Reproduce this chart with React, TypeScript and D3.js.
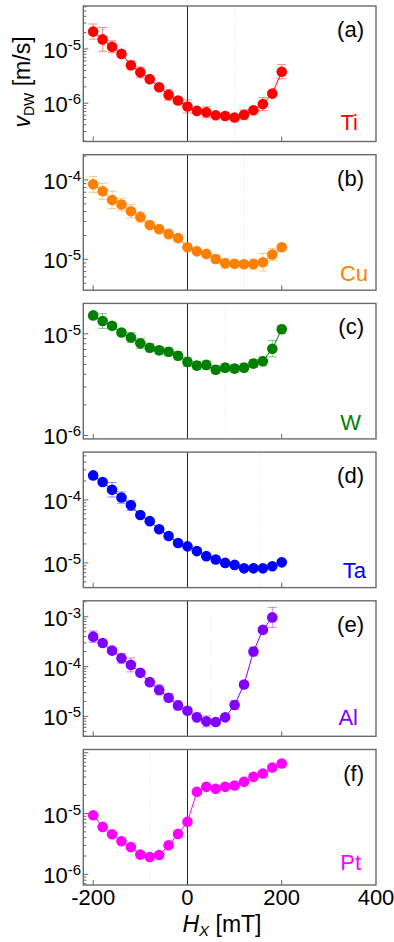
import React from 'react';
import * as d3 from 'd3';

// ---------- data ----------
const fieldMT = [-200, -180, -160, -140, -120, -100, -80, -60, -40, -20, 0, 20, 40, 60, 80, 100, 120, 140, 160, 180, 200];
const xTickValues = [-200, 0, 200, 400];
const xTickLabels = ['-200', '0', '200', '400'];

const tiVel = [2.09e-5, 1.5e-5, 1.1e-5, 8.1e-6, 5.0e-6, 3.7e-6, 2.77e-6, 1.97e-6, 1.42e-6, 1.12e-6, 8.7e-7, 7.2e-7, 6.8e-7, 6.0e-7, 5.8e-7, 5.45e-7, 6.1e-7, 7.4e-7, 9.6e-7, 1.5e-6, 3.8e-6];
const tiErr = [0.14, 0.22, 0.11, 0.06, 0.08, 0.1, 0.04, 0.04, 0.1, 0.06, 0.12, 0.03, 0.1, 0.03, 0.03, 0.03, 0.09, 0.03, 0.12, 0.03, 0.13];

const cuVel = [8.8e-5, 7.2e-5, 5.6e-5, 4.9e-5, 4.04e-5, 3.42e-5, 2.7e-5, 2.4e-5, 2.08e-5, 1.85e-5, 1.42e-5, 1.26e-5, 1.17e-5, 1.01e-5, 8.9e-6, 8.8e-6, 8.65e-6, 8.7e-6, 9.2e-6, 1.15e-5, 1.42e-5];
const cuErr = [0.1, 0.1, 0.11, 0.08, 0.085, 0.065, 0.03, 0.03, 0.06, 0.04, 0.03, 0.03, 0.03, 0.05, 0.06, 0.04, 0.04, 0.065, 0.11, 0.075, 0.04];

const wVel = [1.52e-5, 1.34e-5, 1.2e-5, 1.03e-5, 9.2e-6, 8.07e-6, 7.3e-6, 6.88e-6, 6.67e-6, 6.08e-6, 5.3e-6, 4.87e-6, 4.95e-6, 4.44e-6, 4.65e-6, 4.55e-6, 4.65e-6, 5.1e-6, 5.38e-6, 7.14e-6, 1.11e-5];
const wErr = [0.03, 0.073, 0.03, 0.03, 0.05, 0.05, 0.04, 0.04, 0.04, 0.04, 0.045, 0.04, 0.04, 0.04, 0.04, 0.04, 0.04, 0.04, 0.045, 0.08, 0.04];

const taVel = [2.45e-4, 1.92e-4, 1.45e-4, 1.09e-4, 8.2e-5, 5.75e-5, 4.6e-5, 3.43e-5, 2.68e-5, 2.07e-5, 1.83e-5, 1.54e-5, 1.28e-5, 1.13e-5, 1.0e-5, 9.3e-6, 8.2e-6, 8.2e-6, 8.2e-6, 8.85e-6, 1.02e-5];
const taErr = [0.03, 0.03, 0.115, 0.09, 0.08, 0.03, 0.03, 0.03, 0.03, 0.03, 0.03, 0.03, 0.03, 0.03, 0.03, 0.03, 0.03, 0.03, 0.03, 0.03, 0.03];

const alVel = [3.98e-4, 2.97e-4, 2.09e-4, 1.47e-4, 1.08e-4, 7.47e-5, 4.86e-5, 3.4e-5, 2.36e-5, 1.66e-5, 1.3e-5, 9.55e-6, 7.94e-6, 7.7e-6, 9.55e-6, 1.69e-5, 4.37e-5, 2.0e-4, 5.5e-4, 9.7e-4];
const alErr = [0.115, 0.05, 0.05, 0.1, 0.14, 0.05, 0.07, 0.1, 0.08, 0.09, 0.05, 0.09, 0.11, 0.05, 0.05, 0.09, 0.05, 0.09, 0.05, 0.2];

const ptVel = [9.4e-6, 6.03e-6, 4.56e-6, 3.5e-6, 2.82e-6, 2.11e-6, 1.93e-6, 2.08e-6, 3.0e-6, 4.62e-6, 7.3e-6, 2.28e-5, 2.75e-5, 2.55e-5, 2.75e-5, 2.9e-5, 3.33e-5, 4.02e-5, 4.56e-5, 5.73e-5, 6.67e-5];
const ptErr = [0.02, 0.02, 0.02, 0.02, 0.02, 0.02, 0.02, 0.02, 0.02, 0.02, 0.02, 0.02, 0.02, 0.02, 0.02, 0.02, 0.02, 0.02, 0.02, 0.02, 0.02];

const panelTags = ['(a)', '(b)', '(c)', '(d)', '(e)', '(f)'];
const elements = ['Ti', 'Cu', 'W', 'Ta', 'Al', 'Pt'];
const colors = ['#ff0000', '#ff8000', '#008000', '#0000ff', '#8000ff', '#ff00ff'];
const velocities = [tiVel, cuVel, wVel, taVel, alVel, ptVel];
const errorsDex = [tiErr, cuErr, wErr, taErr, alErr, ptErr];
// log10 y-domain per panel [bottom, top]
const yDomainsExp = [[-6.707, -4.208], [-5.389, -3.682], [-6.034, -4.70], [-5.392, -3.241], [-5.40, -2.68], [-6.176, -3.946]];
const yLabelExps = [[-5, -6], [-4, -5], [-5, -6], [-4, -5], [-3, -4, -5], [-5, -6]];
const guideFields = [100, 120, 80, 155, 50, -80];

// ---------- layout ----------
const W = 394;
const H = 942;
const LEFT = 83.3;
const RIGHT = 376;
const TOP0 = 6;
const STEP = 148.7;
const PH = 135.5;
const FONT = "'Liberation Sans', Arial, sans-serif";
const elemLabelPos = [[358, 12], [368, 9], [361, 9], [366, 10], [358, 11], [361, 15]];

const x = d3.scaleLinear().domain([-221, 400]).range([LEFT, RIGHT]);

function Panel({ i }: { i: number }) {
  const top = TOP0 + i * STEP;
  const bottom = top + PH;
  const [lo, hi] = yDomainsExp[i];
  const y = d3.scaleLog().domain([Math.pow(10, lo), Math.pow(10, hi)]).range([bottom, top]);
  const vals = velocities[i];
  const errs = errorsDex[i];
  const color = colors[i];
  const pts = vals.map((v, k) => ({ h: fieldMT[k], v, e: errs[k] }));
  const line = d3.line<{ h: number; v: number }>().x(d => x(d.h)).y(d => y(d.v));

  const minorTicks: { v: number; major: boolean }[] = [];
  for (let d = Math.floor(lo); d <= Math.ceil(hi); d++) {
    for (let m = 1; m <= 9; m++) {
      const v = m * Math.pow(10, d);
      const lv = Math.log10(v);
      if (lv >= lo && lv <= hi) minorTicks.push({ v, major: m === 1 });
    }
  }
  const [ex, eb] = elemLabelPos[i];
  return (
    <g>
      <line x1={x(guideFields[i])} x2={x(guideFields[i])} y1={top} y2={bottom} stroke="#e4e4ea" strokeWidth={1} strokeDasharray="1,2" />
      <line x1={x(0)} x2={x(0)} y1={top} y2={bottom} stroke="#222" strokeWidth={1} />
      {minorTicks.map((t, k) => (
        <line key={k} x1={LEFT} x2={LEFT + (t.major ? 5 : 3)} y1={y(t.v)} y2={y(t.v)} stroke="#666" strokeWidth={1} />
      ))}
      {[-200, 200].map(h => (
        <line key={h} x1={x(h)} x2={x(h)} y1={bottom} y2={bottom - 5} stroke="#666" strokeWidth={1} />
      ))}
      <rect x={LEFT} y={top} width={RIGHT - LEFT} height={PH} fill="none" stroke="#6a6a6a" strokeWidth={1.4} />
      {yLabelExps[i].map(e => (
        <text key={e} x={81} y={y(Math.pow(10, e)) + 9} textAnchor="end" fontFamily={FONT} fontSize={22} fill="#000">
          10<tspan dy={-8} fontSize={15}>{`-${-e}`}</tspan>
        </text>
      ))}
      <path d={line(pts) || ''} fill="none" stroke={color} strokeWidth={1} />
      {pts.map((p, k) => {
        const y1 = y(p.v * Math.pow(10, p.e));
        const y2 = y(p.v / Math.pow(10, p.e));
        const cx = x(p.h);
        return (
          <g key={k} stroke={color} strokeOpacity={0.45} strokeWidth={1}>
            <line x1={cx} x2={cx} y1={y1} y2={y2} />
            <line x1={cx - 4.5} x2={cx + 4.5} y1={y1} y2={y1} />
            <line x1={cx - 4.5} x2={cx + 4.5} y1={y2} y2={y2} />
          </g>
        );
      })}
      {pts.map((p, k) => (
        <circle key={k} cx={x(p.h)} cy={y(p.v)} r={5.3} fill={color} />
      ))}
      <text x={364} y={top + 31} textAnchor="end" fontFamily={FONT} fontSize={22} fill="#000">{panelTags[i]}</text>
      <text x={ex} y={bottom - eb} textAnchor="end" fontFamily={FONT} fontSize={22} fill={color}>{elements[i]}</text>
    </g>
  );
}

export default function App() {
  const lastBottom = TOP0 + 5 * STEP + PH;
  return (
    <svg width={W} height={H} viewBox={`0 0 ${W} ${H}`} style={{ position: 'absolute', left: 0, top: 0, background: '#fff' }}>
      <rect x={0} y={0} width={W} height={H} fill="#fff" />
      {elements.map((_, i) => <Panel key={i} i={i} />)}
      {xTickValues.map((h, k) => (
        <text key={h} x={x(h)} y={lastBottom + 19.5} textAnchor="middle" fontFamily={FONT} fontSize={22} fill="#000">{xTickLabels[k]}</text>
      ))}
      <text x={222} y={931.5} textAnchor="middle" fontFamily={FONT} fontSize={23} fill="#000">
        <tspan fontStyle="italic">H</tspan>
        <tspan fontStyle="italic" fontSize={15} dy={4}>X</tspan>
        <tspan dy={-4}> [mT]</tspan>
      </text>
      <text transform="translate(30,82) rotate(-90)" textAnchor="middle" fontFamily={FONT} fontSize={23} fill="#000">
        <tspan fontStyle="italic">v</tspan>
        <tspan fontSize={14} dy={4}>DW</tspan>
        <tspan dy={-4}> [m/s]</tspan>
      </text>
    </svg>
  );
}
